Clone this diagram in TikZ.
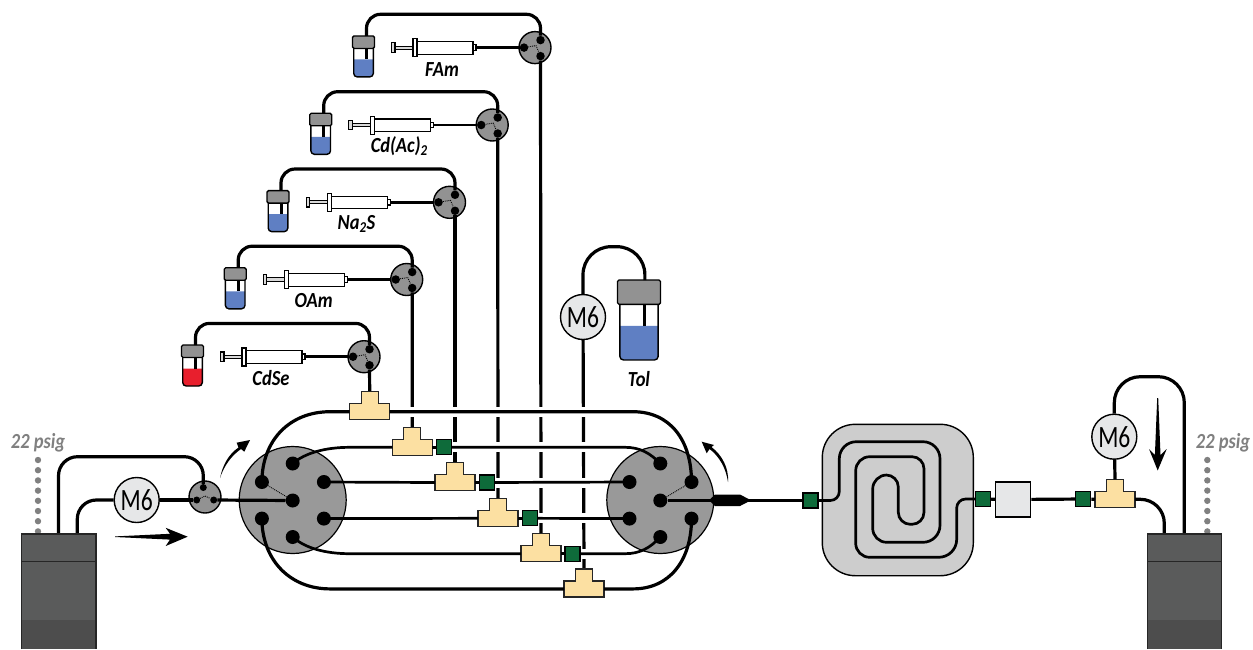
\documentclass[tikz,border=0pt]{standalone}
\usepackage{fontspec}
\usepackage{tikz}
\usetikzlibrary{calc}
\newfontfamily\lblfont[FakeStretch=0.86]{Carlito}
\newfontfamily\meterfont[FakeStretch=0.76]{Carlito}
\definecolor{teeyellow}{HTML}{FCE0A2}
\definecolor{fitgreen}{HTML}{0E6B3A}
\definecolor{valvegray}{HTML}{929292}
\definecolor{rotorgray}{HTML}{999999}
\definecolor{coilgray}{HTML}{CDCDCD}
\definecolor{meterfill}{HTML}{E6E7E8}
\definecolor{liqblue}{HTML}{5F7FC3}
\definecolor{liqred}{HTML}{E81F2D}
\definecolor{tankdark}{HTML}{5A5B5B}
\definecolor{tankband}{HTML}{4D4D4D}
\definecolor{psiggray}{HTML}{808080}

\begin{document}
\begin{tikzpicture}[
      x=1pt,y=-1pt,
      tube/.style={draw=black,line width=3.2pt},
      thintube/.style={draw=black,line width=2.7pt},
      dots/.style={draw=black,densely dotted,line width=.9pt},
      lbl/.style={font=\lblfont\bfseries\itshape\fontsize{21.5}{21.5}\selectfont,text=black,inner sep=0pt},
      psig/.style={lbl,text=psiggray},
      meter/.style={draw=black,line width=1.4pt,circle,fill=meterfill,inner sep=0pt,minimum size=45pt,font=\meterfont\fontsize{31}{31}\selectfont},
      valve/.style={draw=black,line width=1.4pt,circle,fill=valvegray,inner sep=0pt,minimum size=32pt},
      rotor/.style={draw=black,line width=1.2pt,circle,fill=rotorgray,inner sep=0pt,minimum size=107pt},
      port/.style={circle,fill=black,inner sep=0pt,minimum size=8.5pt},
      bigport/.style={circle,fill=black,inner sep=0pt,minimum size=14pt},
      smallport/.style={circle,fill=black,inner sep=0pt,minimum size=7pt},
      fitting/.style={draw=black,line width=1.2pt,fill=fitgreen,inner sep=0pt,minimum size=15pt},
      boxcell/.style={draw=black,line width=1.3pt,fill=meterfill,inner sep=0pt,minimum size=35pt},
      tee/.pic={
        \draw[line width=1.3pt,fill=teeyellow,draw=black!85] (-20,8) -- (-20,-8) -- (-8.5,-8) -- (-8.5,-20) -- (8.5,-20) -- (8.5,-8) -- (20,-8) -- (20,8) -- cycle;
        \coordinate (-top) at (0,-20);
        \coordinate (-left) at (-20,0);
        \coordinate (-right) at (20,0);
      },
      vial/.pic={
        \fill[#1] (-9.8,23.5) [rounded corners=3.5pt] -- (-9.8,41) -- (9.8,41) [sharp corners] -- (9.8,23.5) -- cycle;
        \draw[line width=1.4pt,rounded corners=3.5pt] (-9.8,10) -- (-9.8,41) -- (9.8,41) -- (9.8,10);
        \draw[line width=3pt] (3,0) -- (3,23.5);
        \draw[line width=1.3pt,fill=valvegray,rounded corners=1.5pt] (-11,0) rectangle (11,12.5);
        \coordinate (-top) at (3,0);
      },
      syringe/.pic={
        \draw[line width=1.1pt,fill=black!15] (-143.3,-4.7) rectangle (-140,4.7);
        \draw[line width=.9pt,fill=black!15] (-140,-1.6) rectangle (-122,1.6);
        \draw[line width=1.1pt,fill=white] (-122,-8.7) rectangle (-118,9.3);
        \draw[line width=1.1pt,fill=white] (-118,-6) rectangle (-62,6.6);
        \draw[line width=1.1pt,fill=white] (-62,-2.7) rectangle (-59,2.7);
        \coordinate (-tip) at (-59,0);
      },
      tank/.pic={
        \fill[tankdark] (0,0) rectangle (74.4,115);
        \fill[tankband] (0,86) rectangle (74.4,115);
        \draw[line width=1.4pt,draw=black!85] (0,115) -- (0,0) -- (74.4,0) -- (74.4,115);
        \draw[line width=1.4pt,draw=black!85] (0,27.7) -- (74.4,27.7);
      },
    ]
    \useasboundingbox (0,0) rectangle (1253,649);

    % reagent lines
    \foreach \rname/\x/\y/\liq/\txt in {cdse/364/356.7/liqred/CdSe,oam/406.7/279.5/liqblue/OAm,nas/449.5/202.3/liqblue/Na\textsubscript{2}S,cdac/492.2/125/liqblue/Cd(Ac)\textsubscript{2},fam/535/47.6/liqblue/FAm}{
      \begin{scope}[shift={(\x,\y)}]
        \node[valve] (\rname) at (0,0) {};
        \pic (\rname-vial) at (-171.5,-11.7) {vial=\liq};
        \pic (\rname-syr) at (0,0) {syringe};
        \node[lbl] (\rname-lbl) at (-93,21.5) {\txt};
        \node[port] (\rname-t) at (5.5,-7.5) {};
        \node[port] (\rname-l) at (-11,0) {};
        \node[port] (\rname-b) at (5.5,8.5) {};
        \coordinate (\rname-c1) at (-168.5,-33.3);
        \coordinate (\rname-c2) at (5.5,-33.3);
      \end{scope}
      \draw[tube,rounded corners=14pt] (\rname-vial-top) -- (\rname-c1) -- (\rname-c2) -- (\rname-t);
      \draw[thintube] (\rname-syr-tip) -- (\rname-l);
      \draw[dots] (\rname-l) -- ($(\rname)+(1,-2)$) -- (\rname-b);
    }

    % solvent line
    \node[meter] (m6b) at (583,317) {M6};
    \pic (tolvial) [scale=1.95] at (639,280) {vial=liqblue};
    \node[lbl] (tollbl) at (639,379) {Tol};
    \coordinate (tolc1) at (583,246.7);
    \coordinate (tolc2) at (645,246.7);
    \draw[tube,rounded corners=28pt] (m6b) -- (tolc1) -- (tolc2) -- (tolvial-top);

    % feeds, broken where they pass the loops
    \coordinate (f1) at (369.7,391.7);
    \coordinate (f2) at (412.3,427.3);
    \coordinate (f3) at (455,462.5);
    \coordinate (f4) at (498,498.3);
    \coordinate (f5) at (541,533.7);
    \coordinate (f6) at (584,568.9);
    \draw[tube] (cdse-b) -- (f1);
    \draw[tube] (oam-b) -- (f2);
    \draw[tube] (nas-b) -- (f3);
    \draw[tube] (cdac-b) -- (f4);
    \draw[tube] (fam-b) -- (f5);
    \draw[tube] (m6b) -- (f6);
    \foreach \y in {411.7,447.3,482.5,518.3,553.7}
      \draw[white,line width=10pt] (400,\y) -- (596,\y);

    \pic (t1) at (369.7,411.7) {tee};
    \pic (t2) at (412.3,447.3) {tee};
    \pic (t3) at (455,482.5) {tee};
    \pic (t4) at (498,518.3) {tee};
    \pic (t5) at (541,553.7) {tee};
    \pic (t6) at (584,588.9) {tee};
    \node[fitting] (g1) at (444,447.3) {};
    \node[fitting] (g2) at (487,482.5) {};
    \node[fitting] (g3) at (529.7,518.3) {};
    \node[fitting] (g4) at (572.4,553.7) {};

    % two rotary valves
    \node[rotor] (rl) at (292.7,500) {};
    \node[rotor] (rr) at (660.3,500) {};
    \foreach \rotor/\cx in {rl/292.7,rr/660.3}{
      \node[bigport] (\rotor-c) at (\cx,500.5) {};
      \node[bigport] (\rotor-n) at (\cx,463.5) {};
      \node[bigport] (\rotor-s) at (\cx,537) {};
      \node[bigport] (\rotor-nw) at (\cx-30.8,482) {};
      \node[bigport] (\rotor-ne) at (\cx+31.2,482) {};
      \node[bigport] (\rotor-sw) at (\cx-30.8,518.6) {};
      \node[bigport] (\rotor-se) at (\cx+31.2,518.6) {};
    }
    \draw[dots] (rl-c) -- (rl-nw);
    \draw[dots] (rr-c) -- (rr-ne);

    % loops
    \draw[tube] (rl-nw.center) .. controls (262,440) and (290,411.7) .. (330,411.7) -- (t1-left);
    \draw[tube] (t1-right) -- (633,411.7) .. controls (670,411.7) and (691.5,440) .. (rr-ne.center);
    \draw[thintube] (rl-n.center) .. controls (305,453) and (325,447.3) .. (350,447.3) -- (t2-left);
    \draw[thintube] (t2-right) -- (g1);
    \draw[thintube] (g1) -- (625,447.3) .. controls (640,447.3) and (650,453) .. (rr-n.center);
    \draw[thintube] (rl-ne.center) -- (t3-left);
    \draw[thintube] (t3-right) -- (g2);
    \draw[thintube] (g2) -- (rr-nw.center);
    \draw[thintube] (rl-se.center) -- (t4-left);
    \draw[thintube] (t4-right) -- (g3);
    \draw[thintube] (g3) -- (rr-sw.center);
    \draw[thintube] (rl-s.center) .. controls (305,548) and (325,553.7) .. (350,553.7) -- (t5-left);
    \draw[thintube] (t5-right) -- (g4);
    \draw[thintube] (g4) -- (625,553.7) .. controls (640,553.7) and (650,548) .. (rr-s.center);
    \draw[tube] (rl-sw.center) .. controls (262,560) and (290,588.9) .. (330,588.9) -- (t6-left);
    \draw[tube] (t6-right) -- (633,588.9) .. controls (670,588.9) and (691.5,560) .. (rr-se.center);

    % inlet side
    \node[valve] (vin) at (205,497) {};
    \node[smallport] (vin-t) at (203.3,487.5) {};
    \node[smallport] (vin-l) at (196.7,500) {};
    \node[smallport] (vin-r) at (213.7,500) {};
    \draw[dots] (vin-l) -- (205,496) -- (vin-r);
    \node[meter] (m6a) at (136.7,500) {M6};
    \coordinate (inlet1) at (58.5,534);
    \coordinate (inlet1b) at (58.5,456.7);
    \coordinate (inlet1c) at (203.3,456.7);
    \coordinate (inlet2) at (77.3,534);
    \coordinate (inlet2b) at (77.3,500);
    \draw[tube,rounded corners=19pt] (inlet1) -- (inlet1b) -- (inlet1c) -- (vin-t);
    \draw[tube,rounded corners=19pt] (inlet2) -- (inlet2b) -- (m6a);
    \draw[tube] (m6a) -- (vin-l);
    \draw[tube] (vin-r) -- (rl-c);
    \foreach \k in {0,...,7}
      \fill[psiggray] (38,460+10.2*\k) circle (3.2pt);
    \pic (tankl) at (21.7,534) {tank};
    \node[psig] (psigl) at (38,442.5) {22 psig};

    % outlet side
    \node[fitting] (g5) at (810.5,500.5) {};
    \draw[tube] (rr-c) -- (g5);
    \fill[black] (709,500.3) -- (715,494.5) -- (740,494.5) -- (751,500.3) -- (740,506) -- (715,506) -- cycle;
    \draw[line width=1.4pt,fill=coilgray,rounded corners=33pt] (822.3,424.3) rectangle (973.3,575.7);
    \node[fitting] (g5b) at (810.5,500.5) {};
    \node[fitting] (g6) at (983,499) {};
    \draw[thintube,rounded corners=9pt] (g5b) -- (839.3,500.5) [rounded corners=17pt] -- (839.3,441.7) -- (940,441.7) -- (940,542.3) [rounded corners=14pt] -- (872.7,542.3) -- (872.7,475) [rounded corners=12pt] -- (898.3,475) -- (898.3,524.3) -- (924,524.3) -- (924,456.7) [rounded corners=14pt] -- (855.7,456.7) -- (855.7,557.3) [rounded corners=18pt] -- (956.7,557.3) [rounded corners=9pt] -- (956.7,499) -- (g6);
    \node[boxcell] (cell) at (1013.2,499.5) {};
    \node[fitting] (g7) at (1083.3,499) {};
    \pic (t7) at (1115,499.3) {tee};
    \node[meter] (m6c) at (1114.3,436.7) {M6};
    \draw[tube] (g6) -- (cell);
    \draw[tube] (cell) -- (g7);
    \draw[tube] (g7) -- (t7-left);
    \draw[tube] (m6c) -- (t7-top);
    \coordinate (outlet1) at (1164.3,534);
    \coordinate (outlet1b) at (1164.3,499.3);
    \coordinate (outlet2) at (1184.3,534);
    \coordinate (outlet2b) at (1184.3,376.7);
    \coordinate (outlet2c) at (1114.3,376.7);
    \draw[tube,rounded corners=24pt] (t7-right) -- (outlet1b) -- (outlet1);
    \draw[tube,rounded corners=26pt] (outlet2) -- (outlet2b) -- (outlet2c) -- (m6c);
    \foreach \k in {0,...,7}
      \fill[psiggray] (1207.3,460+10.2*\k) circle (3.2pt);
    \pic (tankr) at (1147.3,534) {tank};
    \node[psig] (psigr) at (1223,443) {22 psig};

    % flow arrows
    \fill[black] (115,536.4) -- (170,533.8) -- (165.7,527.8) -- (187.7,536.7) -- (165.7,546) -- (170,539.6) -- (115,537) -- cycle;
    \fill[black] (1157.2,398) -- (1154.9,455) -- (1149,449) -- (1157.7,470.5) -- (1166.7,449) -- (1160.5,455) -- (1158.2,398) -- cycle;
    \fill[black] (220,478) .. controls (223,464) and (229,454) .. (238.5,447.5) -- (236.7,442.7) -- (250,440) -- (244.3,451.7) -- (241,449) .. controls (231,456) and (224,466) .. cycle;
    \fill[black] (728,482) .. controls (726,468) and (719,456) .. (709.5,449) -- (706.7,453.3) -- (701.7,441.7) -- (714,445) -- (711.5,447) .. controls (722,455) and (729,468) .. cycle;
\end{tikzpicture}
\end{document}
